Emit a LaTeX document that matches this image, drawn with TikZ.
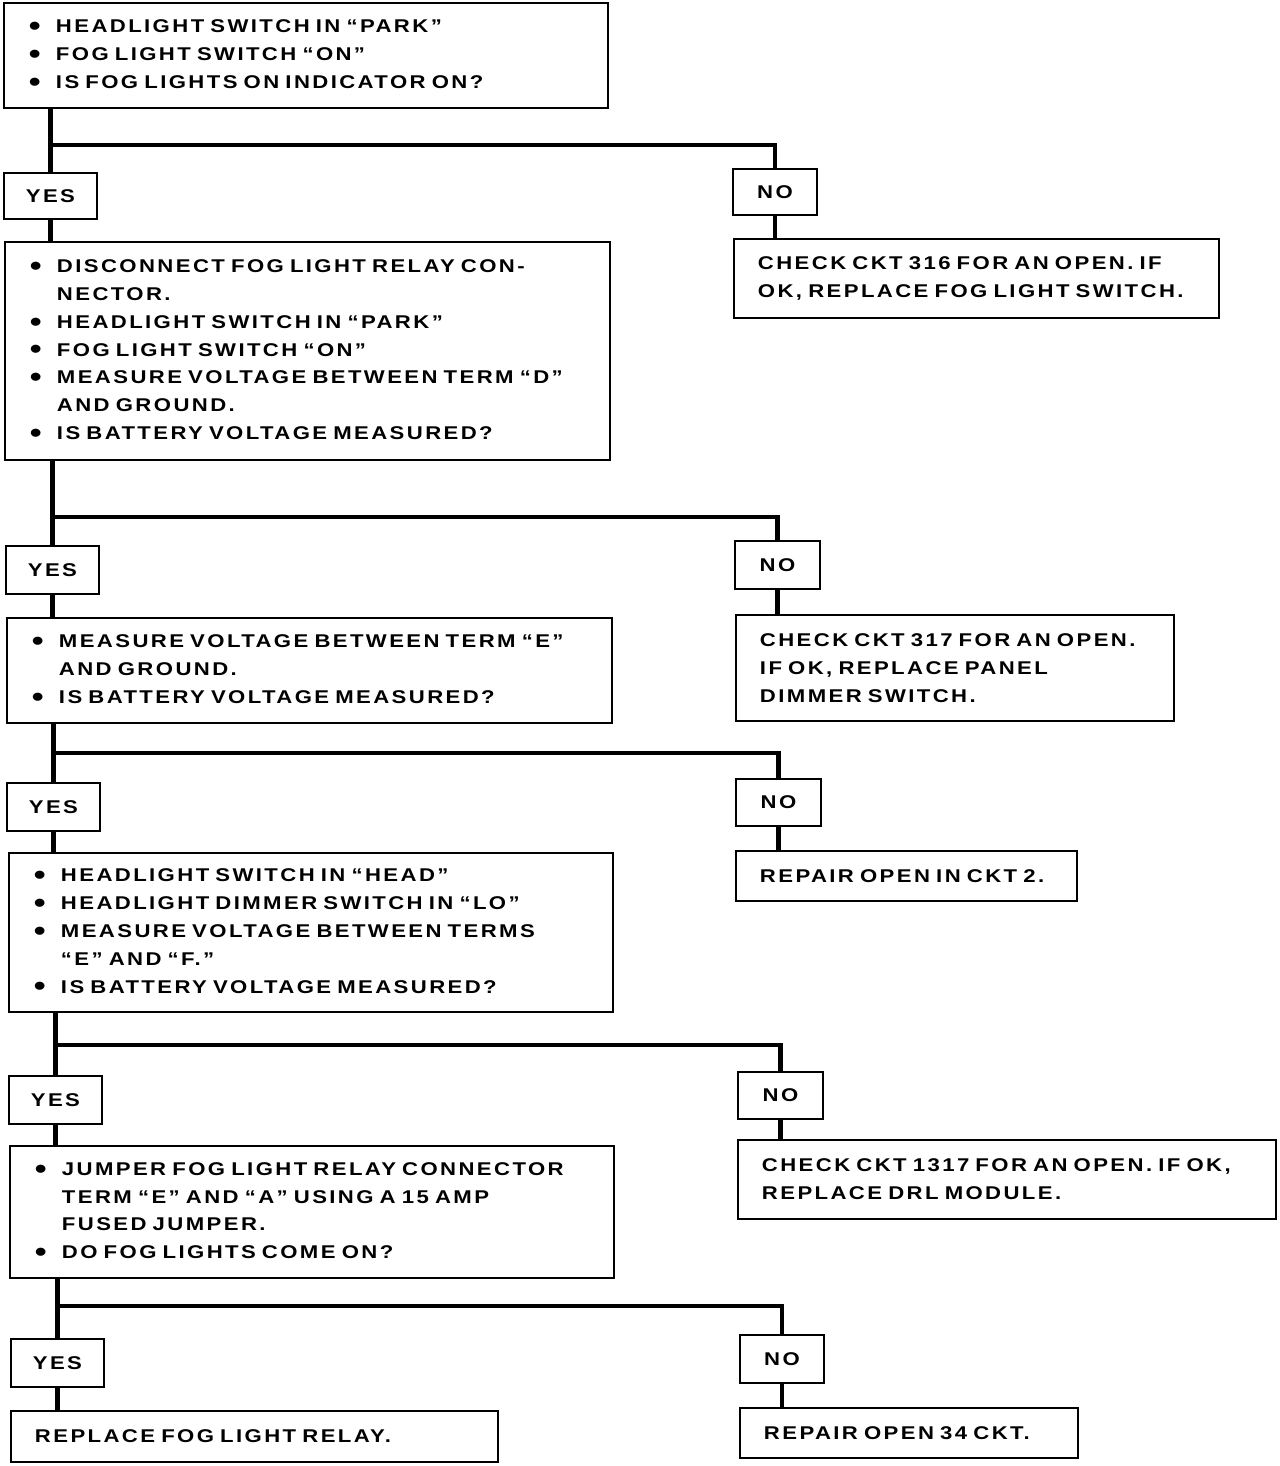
\documentclass[tikz,border=0pt]{standalone}
\usepackage{fontspec}
\setmainfont[LetterSpace=13,FakeStretch=1.2,WordSpace=4.5]{Liberation Sans Bold}
\newcommand{\itm}{\makebox[0.54cm][l]{\raisebox{-1.6pt}{\fontsize{16}{16}\selectfont\textbullet}}}
\newcommand{\cnt}{\hspace*{0.54cm}}
\begin{document}
\begin{tikzpicture}
        [%%%%%%%%%%%%%%%%%%%%%%%%%%%%%%
        every node/.style={font=\fontsize{10.5}{15.8}\selectfont},
        qbox/.style={rectangle,draw=black,line width=1.1pt,anchor=north west,align=left,inner xsep=0.50cm,inner ysep=0pt},
        abox/.style={rectangle,draw=black,line width=1.1pt,anchor=north west,align=left,inner xsep=0.48cm,inner ysep=0pt},
        ans/.style={rectangle,draw=black,line width=1.1pt,anchor=north west,inner sep=0pt},
        link/.style={line width=2.8pt},
        ]%%%%%%%%%%%%%%%%%%%%%%%%%%%%%%
        
        \useasboundingbox (0,0) rectangle (25.6,-29.32);
        
        % questions
        \node[qbox,text width=11.08cm,minimum height=2.10cm] (q1) at (0.06,-0.04)
          {\itm HEADLIGHT SWITCH IN ``PARK''\\ \itm FOG LIGHT SWITCH ``ON''\\ \itm IS FOG LIGHTS ON INDICATOR ON?};
        \node[qbox,text width=11.10cm,minimum height=4.36cm] (q2) at (0.08,-4.82)
          {\itm DISCONNECT FOG LIGHT RELAY CON-\\ \cnt NECTOR.\\ \itm HEADLIGHT SWITCH IN ``PARK''\\
           \itm FOG LIGHT SWITCH ``ON''\\ \itm MEASURE VOLTAGE BETWEEN TERM ``D''\\ \cnt AND GROUND.\\
           \itm IS BATTERY VOLTAGE MEASURED?};
        \node[qbox,text width=11.10cm,minimum height=2.10cm] (q3) at (0.12,-12.34)
          {\itm MEASURE VOLTAGE BETWEEN TERM ``E''\\ \cnt AND GROUND.\\ \itm IS BATTERY VOLTAGE MEASURED?};
        \node[qbox,text width=11.08cm,minimum height=3.18cm] (q4) at (0.16,-17.04)
          {\itm HEADLIGHT SWITCH IN ``HEAD''\\ \itm HEADLIGHT DIMMER SWITCH IN ``LO''\\
           \itm MEASURE VOLTAGE BETWEEN TERMS\\ \cnt ``E'' AND ``F.''\\ \itm IS BATTERY VOLTAGE MEASURED?};
        \node[qbox,text width=11.08cm,minimum height=2.64cm] (q5) at (0.18,-22.90)
          {\itm JUMPER FOG LIGHT RELAY CONNECTOR\\ \cnt TERM ``E'' AND ``A'' USING A 15 AMP\\
           \cnt FUSED JUMPER.\\ \itm DO FOG LIGHTS COME ON?};
        
        % yes / no
        \node[ans,minimum width=1.86cm,minimum height=0.92cm] (yes1) at (0.06,-3.44) {YES};
        \node[ans,minimum width=1.68cm,minimum height=0.92cm] (no1) at (14.64,-3.36) {NO};
        \node[ans,minimum width=1.86cm,minimum height=0.96cm] (yes2) at (0.10,-10.90) {YES};
        \node[ans,minimum width=1.70cm,minimum height=0.96cm] (no2) at (14.68,-10.80) {NO};
        \node[ans,minimum width=1.86cm,minimum height=0.96cm] (yes3) at (0.12,-15.64) {YES};
        \node[ans,minimum width=1.70cm,minimum height=0.94cm] (no3) at (14.70,-15.56) {NO};
        \node[ans,minimum width=1.86cm,minimum height=0.96cm] (yes4) at (0.16,-21.50) {YES};
        \node[ans,minimum width=1.70cm,minimum height=0.94cm] (no4) at (14.74,-21.42) {NO};
        \node[ans,minimum width=1.86cm,minimum height=0.96cm] (yes5) at (0.20,-26.76) {YES};
        \node[ans,minimum width=1.68cm,minimum height=0.96cm] (no5) at (14.78,-26.68) {NO};
        
        % actions
        \node[abox,text width=8.74cm,minimum height=1.58cm] (a1) at (14.66,-4.76)
          {CHECK CKT 316 FOR AN OPEN. IF\\ OK, REPLACE FOG LIGHT SWITCH.};
        \node[abox,text width=7.80cm,minimum height=2.12cm] (a2) at (14.70,-12.28)
          {CHECK CKT 317 FOR AN OPEN.\\ IF OK, REPLACE PANEL\\ DIMMER SWITCH.};
        \node[abox,text width=5.86cm,minimum height=1.00cm] (a3) at (14.70,-17.00)
          {REPAIR OPEN IN CKT 2.};
        \node[abox,text width=9.80cm,minimum height=1.58cm] (a4) at (14.74,-22.78)
          {CHECK CKT 1317 FOR AN OPEN. IF OK,\\ REPLACE DRL MODULE.};
        \node[abox,text width=8.78cm,minimum height=1.02cm] (a5) at (0.20,-28.20)
          {REPLACE FOG LIGHT RELAY.};
        \node[abox,text width=5.80cm,minimum height=1.00cm] (a6) at (14.78,-28.14)
          {REPAIR OPEN 34 CKT.};
        
        % branch points
        \coordinate (b1) at (0,-2.90);
        \coordinate (b2) at (0,-10.34);
        \coordinate (b3) at (0,-15.06);
        \coordinate (b4) at (0,-20.90);
        \coordinate (b5) at (0,-26.12);
        
        \foreach \i/\j in {1/2,2/3,3/4,4/5}{
          \draw[link] (q\i.south -| yes\i.north) -- (yes\i.north);
          \draw[link] (b\i -| yes\i.north) -| (no\i.north);
          \draw[link] (yes\i.south) -- (q\j.north -| yes\i.south);
        }
        \draw[link] (q5.south -| yes5.north) -- (yes5.north);
        \draw[link] (b5 -| yes5.north) -| (no5.north);
        \draw[link] (yes5.south) -- (a5.north -| yes5.south);
        
        \draw[link] (no1.south) -- (a1.north -| no1.south);
        \draw[link] (no2.south) -- (a2.north -| no2.south);
        \draw[link] (no3.south) -- (a3.north -| no3.south);
        \draw[link] (no4.south) -- (a4.north -| no4.south);
        \draw[link] (no5.south) -- (a6.north -| no5.south);
      \end{tikzpicture}
\end{document}
